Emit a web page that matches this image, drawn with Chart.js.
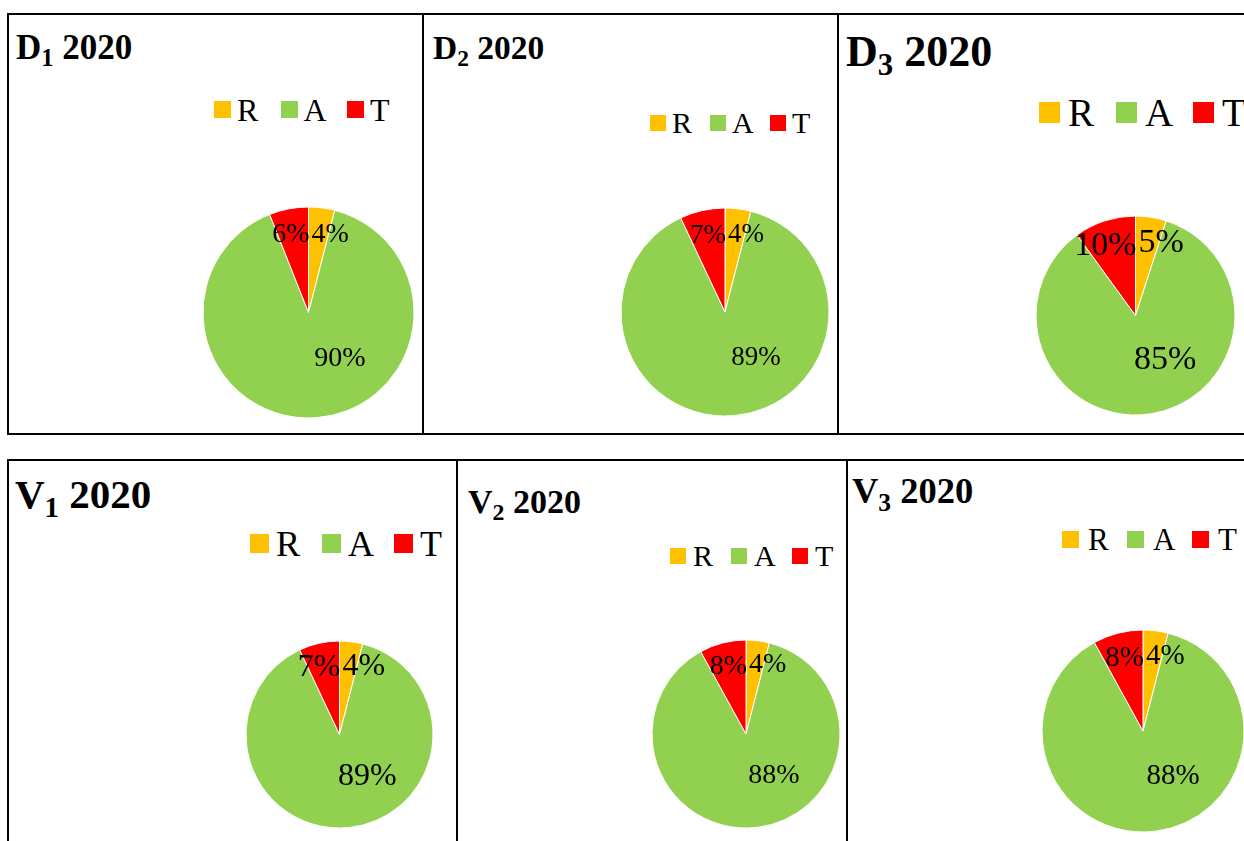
<!DOCTYPE html>
<html>
<head>
<meta charset="utf-8">
<title>R / A / T shares 2020</title>
<script src="https://cdn.jsdelivr.net/npm/chart.js@4.4.0/dist/chart.umd.min.js"></script>
<style>
  html, body { margin: 0; padding: 0; background: #fff; }
  body {
    position: relative;
    width: 1244px;
    height: 841px;
    overflow: hidden;
    font-family: "Liberation Serif", "Times New Roman", serif;
    color: #000;
  }
  .panel { position: absolute; border: 2px solid #000; box-sizing: border-box; }
  .title { position: absolute; font-weight: bold; line-height: 1; white-space: nowrap; }
  .title sub { font-size: 0.7em; vertical-align: -0.3em; line-height: 0; }
  .legend { position: absolute; display: flex; align-items: center; line-height: 1; white-space: nowrap; }
  .legend .item { display: flex; align-items: center; }
  .legend .box { display: inline-block; }
  .pie { position: absolute; }
  .pie .pct { position: absolute; line-height: 1; white-space: nowrap; pointer-events: none; }
</style>
</head>
<body>
<script>
"use strict";

const categories = ["R", "A", "T"];
const sites = ["D", "D", "D", "V", "V", "V"];
const siteNumbers = ["1", "2", "3", "1", "2", "3"];
const year = "2020";

const d1Values = [4, 90, 6];
const d2Values = [4, 89, 7];
const d3Values = [5, 85, 10];
const v1Values = [4, 89, 7];
const v2Values = [4, 88, 8];
const v3Values = [4, 88, 8];

const sliceColors = ["#FFC000", "#92D050", "#FF0000"];

// panel frame [x, y, w, h], title [x, baseline, size],
// legend [firstBoxX, centerY, boxSize, textGap, fontSize, itemStep],
// pie [cx, cy, radius], label font size
const layouts = [
  { frame: [7, 13, 417, 422], title: [16, 59, 35], legend: [214, 109.5, 17, 6, 32, 66.5], pie: [308.5, 312, 105.5], label: 28 },
  { frame: [422, 13, 417, 422], title: [433, 59, 33.5], legend: [650, 122.5, 16, 6, 30, 60], pie: [725, 312, 104], label: 27 },
  { frame: [837, 13, 420, 422], title: [846, 67, 44], legend: [1039, 112.5, 21, 8, 39, 77], pie: [1135.5, 315.5, 99.5], label: 34 },
  { frame: [7, 459, 451, 400], title: [15, 508, 41], legend: [250, 543.5, 19, 7, 36, 72], pie: [339.5, 734, 93.5], label: 32 },
  { frame: [456, 459, 392, 400], title: [468, 513, 34], legend: [670, 556, 16, 7, 30, 61], pie: [746, 734, 94], label: 28 },
  { frame: [846, 459, 420, 400], title: [852, 504, 36.5], legend: [1062, 539.5, 17, 9, 31, 65], pie: [1143, 731, 101], label: 29 }
];

const allValues = [d1Values, d2Values, d3Values, v1Values, v2Values, v3Values];

// percentage text for each slice, placed from the arc geometry as html spans
const percentLabels = {
  id: "percentLabels",
  afterDraw(chart, args, opts) {
    const holder = chart.canvas.parentNode;
    holder.querySelectorAll(".pct").forEach((el) => el.remove());
    const meta = chart.getDatasetMeta(0);
    const values = chart.data.datasets[0].data;
    const total = values.reduce((a, b) => a + b, 0);
    const size = opts.size;
    meta.data.forEach((arc, i) => {
      const p = arc.getProps(["x", "y", "startAngle", "endAngle", "outerRadius"], true);
      const share = values[i] / total;
      let tx, ty, shift;
      if (share > 0.5) {
        const a = -Math.PI / 2 + (145 * Math.PI) / 180;
        tx = p.x + Math.cos(a) * p.outerRadius * 0.52;
        ty = p.y + Math.sin(a) * p.outerRadius * 0.52;
        shift = "-50%";
      } else {
        const mid = (p.startAngle + p.endAngle) / 2;
        ty = p.y + Math.sin(mid) * p.outerRadius * 0.76;
        if (Math.cos(mid) >= 0) {
          tx = p.x + 3;
          shift = "0";
        } else {
          tx = p.x + 1;
          shift = "-100%";
        }
      }
      const span = document.createElement("span");
      span.className = "pct";
      span.textContent = Math.round(share * 100) + "%";
      span.style.fontSize = size + "px";
      span.style.left = tx + "px";
      // baseline sits 0.34em below the visual middle of the digits
      span.style.top = ty + size * 0.34 - size * 0.8375 + "px";
      span.style.transform = "translateX(" + shift + ")";
      holder.appendChild(span);
    });
  }
};

function makePanel(index) {
  const lay = layouts[index];

  const frame = document.createElement("div");
  frame.className = "panel";
  frame.style.left = lay.frame[0] + "px";
  frame.style.top = lay.frame[1] + "px";
  frame.style.width = lay.frame[2] + "px";
  frame.style.height = lay.frame[3] + "px";
  document.body.appendChild(frame);

  const title = document.createElement("div");
  title.className = "title";
  title.style.fontSize = lay.title[2] + "px";
  title.style.left = lay.title[0] + "px";
  title.style.top = lay.title[1] - 0.8375 * lay.title[2] + "px";
  title.innerHTML = sites[index] + "<sub>" + siteNumbers[index] + "</sub> " + year;
  document.body.appendChild(title);

  const lg = lay.legend;
  const legend = document.createElement("div");
  legend.className = "legend";
  legend.style.left = lg[0] + "px";
  legend.style.top = lg[1] - lg[4] / 2 + "px";
  legend.style.height = lg[4] + "px";
  legend.style.fontSize = lg[4] + "px";
  for (let i = 0; i < categories.length; i++) {
    const item = document.createElement("div");
    item.className = "item";
    if (i < categories.length - 1) item.style.width = lg[5] + "px";
    const box = document.createElement("span");
    box.className = "box";
    box.style.width = lg[2] + "px";
    box.style.height = lg[2] + "px";
    box.style.background = sliceColors[i];
    box.style.marginRight = lg[3] + "px";
    const txt = document.createElement("span");
    txt.textContent = categories[i];
    item.appendChild(box);
    item.appendChild(txt);
    legend.appendChild(item);
  }
  document.body.appendChild(legend);

  const [cx, cy, r] = lay.pie;
  const wrap = document.createElement("div");
  wrap.className = "pie";
  wrap.style.left = cx - r - 2 + "px";
  wrap.style.top = cy - r - 2 + "px";
  wrap.style.width = 2 * r + 4 + "px";
  wrap.style.height = 2 * r + 4 + "px";
  const canvas = document.createElement("canvas");
  wrap.appendChild(canvas);
  document.body.appendChild(wrap);

  new Chart(canvas, {
    type: "pie",
    data: {
      labels: categories,
      datasets: [
        {
          data: allValues[index],
          backgroundColor: sliceColors,
          borderColor: "#fff",
          borderWidth: 1
        }
      ]
    },
    options: {
      responsive: true,
      maintainAspectRatio: false,
      animation: false,
      events: [],
      radius: r,
      layout: { padding: 0 },
      plugins: {
        legend: { display: false },
        tooltip: { enabled: false },
        percentLabels: { size: lay.label }
      }
    },
    plugins: [percentLabels]
  });
}

for (let i = 0; i < layouts.length; i++) {
  makePanel(i);
}
</script>
</body>
</html>
